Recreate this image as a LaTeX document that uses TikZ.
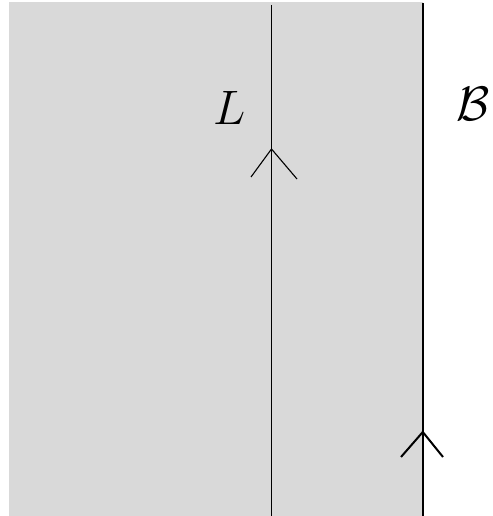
\documentclass[tikz,border=0pt]{standalone}
\definecolor{regiongray}{RGB}{217,217,217}
\begin{document}
\begin{tikzpicture}[x=1pt,y=-1pt,
  thinline/.style={line width=1.1pt},
  thickline/.style={line width=2.6pt},
  lbl/.style={inner sep=0pt}]
\useasboundingbox (0,0) rectangle (492,516);
\fill[regiongray] (9,2) rectangle (423,516);
\coordinate (Ltop) at (271.5,5);
\coordinate (Lbot) at (271.5,516);
\coordinate (Btop) at (422.8,3);
\coordinate (Bbot) at (422.8,516);
\draw[thinline] (Ltop) -- (Lbot);
\draw[thickline] (Btop) -- (Bbot);
\draw[thinline] (251,177) -- (271.5,149) -- (297,179);
\draw[line width=2pt] (401,457) -- (422.8,432) -- (443,457);
\node[lbl] (Llab) at (230,108) {\scalebox{2.8}{\LARGE$L$}};
\node[lbl] (Blab) at (473,104) {\scalebox{2.8}{\LARGE$\mathcal{B}$}};
\end{tikzpicture}
\end{document}
